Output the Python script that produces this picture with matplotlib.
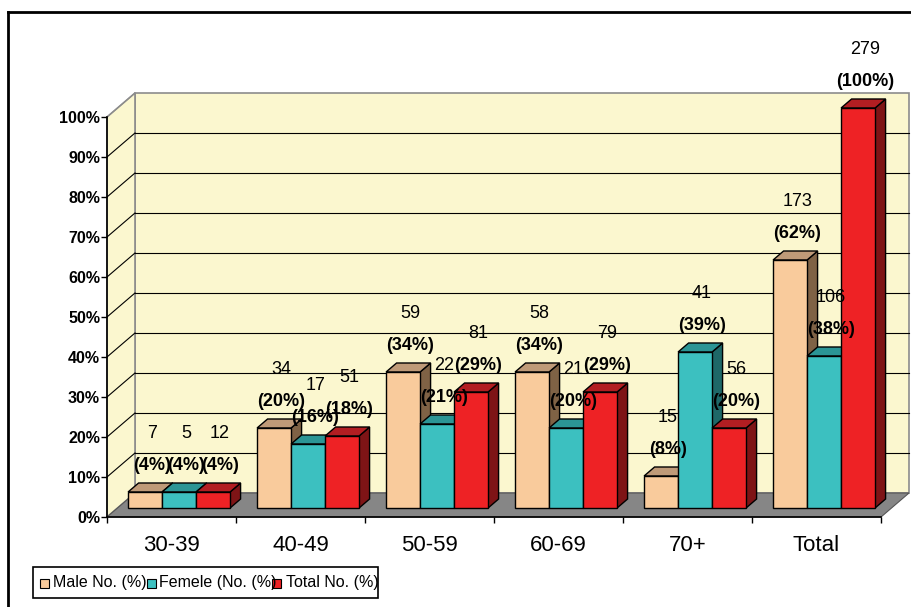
import numpy as np
import matplotlib
matplotlib.use("Agg")
import matplotlib.pyplot as plt
from matplotlib.patches import Polygon, Rectangle
from matplotlib.lines import Line2D

plt.rcParams['font.family'] = ['Liberation Sans', 'DejaVu Sans']

# ---- data ----
categories = ["30-39", "40-49", "50-59", "60-69", "70+", "Total"]
series_names = ["Male No. (%)", "Femele (No. (%)", "Total No. (%)"]
male_n = [7, 34, 59, 58, 15, 173]
male_pct = [4, 20, 34, 34, 8, 62]
female_n = [5, 17, 22, 21, 41, 106]
female_pct = [4, 16, 21, 20, 39, 38]
total_n = [12, 51, 81, 79, 56, 279]
total_pct = [4, 18, 29, 29, 20, 100]

counts = [male_n, female_n, total_n]
pcts = [male_pct, female_pct, total_pct]

# face colours: front, top, side
face_colors = [
    ("#F9CB9C", "#BF9A78", "#7F6245"),
    ("#3CC0C0", "#2B9595", "#1E6868"),
    ("#EE2225", "#B21E22", "#7E1416"),
]

W, H = 912, 607
fig = plt.figure(figsize=(W / 100, H / 100), dpi=100)
fig.patch.set_facecolor("white")

# axes spanning the whole figure; front plane: x in categories, y in percent
ax = fig.add_axes([0, 0, 1, 1])
px_per_cat = 129.0
px_per_pct = 4.0
x_origin, y_origin = 107.0, 517.0
ax.set_xlim(-x_origin / px_per_cat, (W - x_origin) / px_per_cat)
ax.set_ylim((y_origin - H) / px_per_pct, y_origin / px_per_pct)
ax.patch.set_alpha(0)

n_cat = len(categories)
DX = 28 / px_per_cat      # depth offset of the back wall
DY = 24 / px_per_pct

wall_col = "#FBF7CF"
floor_col = "#868686"
edge_gray = "#8C8C8C"

# back wall and side wall
ax.add_patch(Polygon([(DX, DY), (n_cat + DX, DY), (n_cat + DX, 100 + DY), (DX, 100 + DY)],
                     closed=True, facecolor=wall_col, edgecolor=edge_gray, lw=1.2, zorder=0))
ax.add_patch(Polygon([(0, 0), (DX, DY), (DX, 100 + DY), (0, 100)],
                     closed=True, facecolor=wall_col, edgecolor=edge_gray, lw=1.2, zorder=0))

# gridlines on the walls
for v in range(10, 100, 10):
    ax.plot([DX, n_cat + DX], [v + DY, v + DY], color="black", lw=0.8, zorder=0.5)
for v in range(10, 101, 10):
    ax.plot([0, DX], [v, v + DY], color="black" if v < 100 else edge_gray, lw=0.8, zorder=0.5)

# floor
ax.add_patch(Polygon([(0, 0), (n_cat, 0), (n_cat + DX, DY), (DX, DY)],
                     closed=True, facecolor=floor_col, edgecolor="#555555", lw=0.8, zorder=1))

# bars
f1, f2 = 0.375, 0.75          # bar depth range (fraction of wall depth)
bar_w = 34 / px_per_cat
left_pad = 0.082
d = f2 - f1
for i in range(n_cat):
    for j in range(3):
        h = pcts[j][i]
        front, top, side = face_colors[j]
        x0 = i + left_pad + j * bar_w + f1 * DX
        y0 = f1 * DY
        x1 = x0 + bar_w
        y1 = y0 + h
        ox, oy = d * DX, d * DY
        z = 2 + j * 0.1
        ax.add_patch(Polygon([(x1, y0), (x1 + ox, y0 + oy), (x1 + ox, y1 + oy), (x1, y1)],
                             closed=True, facecolor=side, edgecolor="black", lw=1, zorder=z))
        ax.add_patch(Polygon([(x0, y1), (x1, y1), (x1 + ox, y1 + oy), (x0 + ox, y1 + oy)],
                             closed=True, facecolor=top, edgecolor="black", lw=1, zorder=z))
        ax.add_patch(Rectangle((x0, y0), bar_w, h, facecolor=front, edgecolor="black",
                               lw=1, zorder=z + 0.05))
        cx = x0 + bar_w / 2
        ax.text(cx + 7 / px_per_cat, y1 + 6.6, f"({pcts[j][i]}%)", ha="center", va="center",
                fontsize=13, fontweight="bold", zorder=10)
        ax.text(cx + 7 / px_per_cat, y1 + 6.6 + 7.9, f"{counts[j][i]}", ha="center", va="center",
                fontsize=13, zorder=10)

# axes lines and ticks
for s in ["top", "right"]:
    ax.spines[s].set_visible(False)
ax.spines["left"].set_position(("data", 0))
ax.spines["left"].set_bounds(0, 100)
ax.spines["bottom"].set_position(("data", 0))
ax.spines["bottom"].set_bounds(0, n_cat)
for s in ["left", "bottom"]:
    ax.spines[s].set_linewidth(1.2)
    ax.spines[s].set_zorder(3)

ax.set_yticks(range(0, 101, 10))
ax.set_yticklabels([f"{v}%" for v in range(0, 101, 10)], fontsize=11.5, fontweight="bold")
ax.tick_params(axis="y", direction="out", length=4, width=1, pad=1)

ax.set_xticks(range(0, n_cat + 1))
ax.set_xticklabels([""] * (n_cat + 1))
ax.set_xticks(np.arange(n_cat) + 0.5, minor=True)
ax.set_xticklabels(categories, minor=True, fontsize=16)
ax.tick_params(axis="x", which="major", direction="out", length=4, width=1)
ax.tick_params(axis="x", which="minor", length=0, pad=13)


def fx(px):
    return px / W


def fy(py):
    return 1 - py / H


# legend box
fig.patches.append(Rectangle((fx(33), fy(598)), fx(378) - fx(33), fy(567) - fy(598),
                             transform=fig.transFigure, facecolor="white",
                             edgecolor="black", lw=1.2))
marker_x = [40, 147, 272]
text_x = [53, 159, 286]
for j in range(3):
    fig.patches.append(Rectangle((fx(marker_x[j]), fy(588)), fx(9), 9 / H,
                                 transform=fig.transFigure, facecolor=face_colors[j][0],
                                 edgecolor="black", lw=0.8))
    fig.text(fx(text_x[j]), fy(583), series_names[j], ha="left", va="center", fontsize=11.5)

# outer frame
fig.lines.append(Line2D([fx(8), 1], [fy(12), fy(12)], transform=fig.transFigure,
                        color="black", lw=2))
fig.lines.append(Line2D([fx(8), fx(8)], [fy(12), 0], transform=fig.transFigure,
                        color="black", lw=2))

fig.savefig("out.png", dpi=100)
